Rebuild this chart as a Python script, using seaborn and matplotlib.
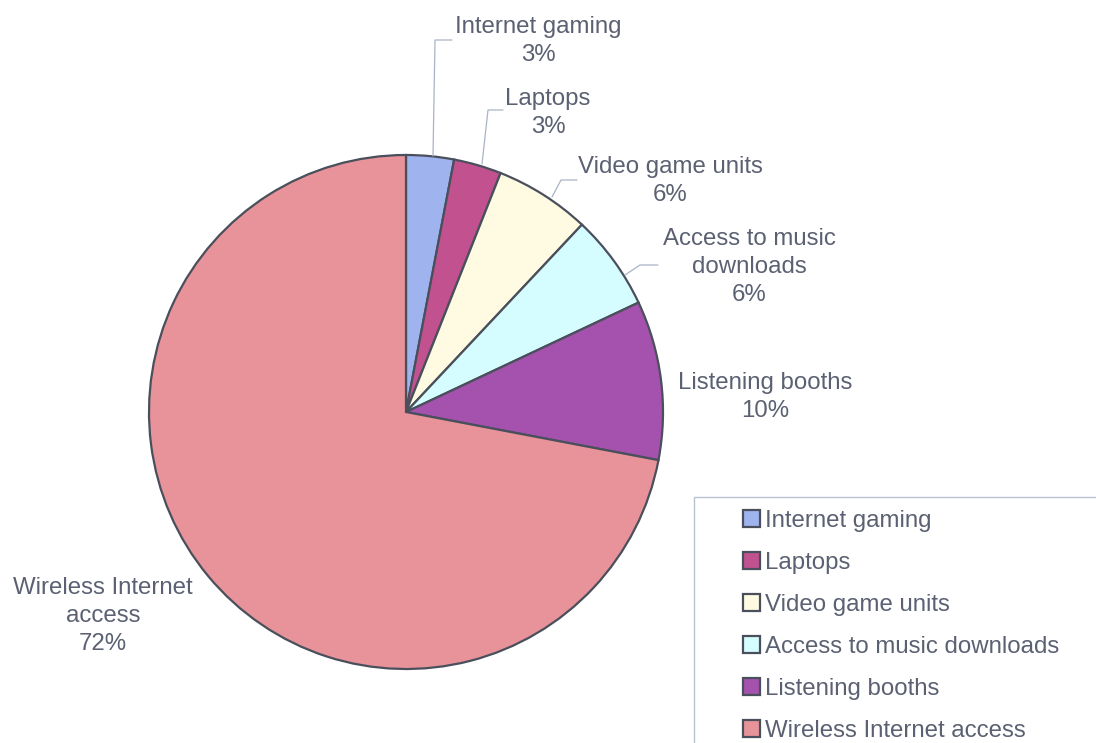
import matplotlib
matplotlib.use("Agg")
import matplotlib.pyplot as plt
from matplotlib.patches import Rectangle, Patch
import seaborn as sns

# Share of respondents by amenity
categories = ["Internet gaming", "Laptops", "Video game units",
              "Access to music downloads", "Listening booths",
              "Wireless Internet access"]
shares = [3, 3, 6, 6, 10, 72]
label_text = ["Internet gaming", "Laptops", "Video game units",
              "Access to music\ndownloads", "Listening booths",
              "Wireless Internet\naccess"]
colors = ["#9fb3ef", "#c2518f", "#fffbe2", "#d5fdff", "#a452ad", "#e8939a"]

sns.set_theme(style="white")
plt.rcParams["font.family"] = ["Liberation Sans", "DejaVu Sans"]

TEXT = "#5b6172"
EDGE = "#4a4f5c"
LEADER = "#a9b3c6"
FS = 17.3

W, H = 1096, 743
fig = plt.figure(figsize=(W / 100, H / 100), dpi=100)
ax = fig.add_axes([0, 0, 1, 1])

cx, cy, r = 406, H - 412, 257
wedges, _ = ax.pie(shares, colors=colors, startangle=90, counterclock=False,
                   center=(cx, cy), radius=r, frame=True,
                   wedgeprops=dict(edgecolor=EDGE, linewidth=1.6))
ax.set_xlim(0, W)
ax.set_ylim(0, H)
ax.set_aspect("equal")
ax.axis("off")

# Data labels (text block centres, in pixels from the top-left)
label_pos = [(538, 41), (548, 113), (670, 181), (749, 267), (765, 397), (103, 616)]
for txt, v, (x, y) in zip(label_text, shares, label_pos):
    ax.text(x, H - y, f"{txt}\n{v}%", ha="center", va="center",
            fontsize=FS, color=TEXT, linespacing=1.34)

# Leader lines for the small slices
leaders = [
    [(452, 40), (435, 40), (433, 156)],
    [(503, 110), (488, 110), (482, 164)],
    [(577, 180), (561, 180), (552, 197)],
    [(658, 265), (640, 265), (625, 275)],
]
for pts in leaders:
    xs = [p[0] for p in pts]
    ys = [H - p[1] for p in pts]
    ax.plot(xs, ys, color=LEADER, linewidth=0.9)

# Legend frame running off the figure edge
ax.add_patch(Rectangle((694, -10), 420, H - 497 + 10, facecolor="white",
                       edgecolor="#b8c2d4", linewidth=1.0, zorder=1))

handles = [Patch(facecolor=c, edgecolor=EDGE, linewidth=1.6) for c in colors]
leg = ax.legend(handles, categories, loc="upper left",
                bbox_to_anchor=(743 / W, 1 - 510 / H), frameon=False,
                fontsize=FS, handlelength=0.7, handleheight=0.7,
                handletextpad=0.2, labelspacing=0.835, borderpad=0,
                borderaxespad=0)
for t in leg.get_texts():
    t.set_color(TEXT)
leg.set_zorder(3)

fig.savefig("out.png", dpi=100, facecolor="white")
